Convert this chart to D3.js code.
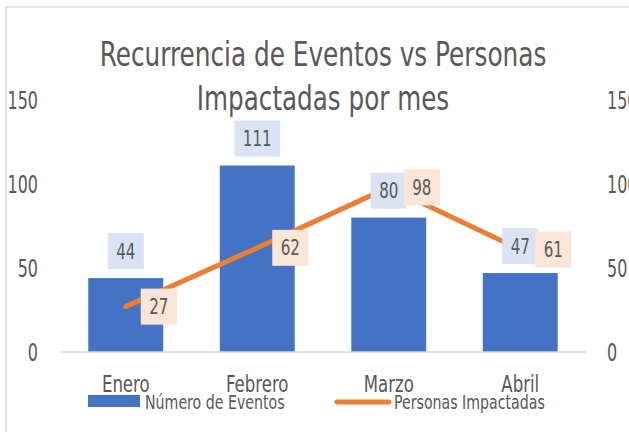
<!DOCTYPE html>
<html>
<head>
<meta charset="utf-8">
<script src="https://cdn.jsdelivr.net/npm/d3@7"></script>
<style>
  body { margin: 0; background: #fff; }
  svg { display: block; }
</style>
</head>
<body>
<script>
// data
var months = ["Enero", "Febrero", "Marzo", "Abril"];
var eventos = [44, 111, 80, 47];
var personas = [27, 62, 98, 61];
var yTicks = [0, 50, 100, 150];
var seriesNames = ["Número de Eventos", "Personas Impactadas"];

var W = 629, H = 432;
var FONT = "'DejaVu Sans Condensed', 'DejaVu Sans', sans-serif";
var GREY = "#595959";

var svg = d3.select("body").append("svg")
    .attr("width", W)
    .attr("height", H);

// chart area frame (only left and top edges are visible)
svg.append("rect")
    .attr("x", 6).attr("y", 7)
    .attr("width", W + 20).attr("height", H + 20)
    .attr("fill", "#fff")
    .attr("stroke", "#d9d9d9")
    .attr("stroke-width", 1.5);

var x = d3.scaleBand()
    .domain(months)
    .range([60, 586])
    .paddingInner(0.43)
    .paddingOuter(0.215);

var y = d3.scaleLinear().domain([0, 150]).range([352, 100]);
var y2 = d3.scaleLinear().domain([0, 150]).range([352, 100]);

// text helper: horizontally squeezed text to mimic the condensed font
function txt(parent, px, py, str, size, anchor, k) {
    return parent.append("text")
        .attr("transform", "translate(" + px + "," + py + ") scale(" + k + ",1)")
        .attr("text-anchor", anchor)
        .attr("font-family", FONT)
        .attr("font-size", size)
        .attr("fill", GREY)
        .text(str);
}

// title
txt(svg, 323, 66, "Recurrencia de Eventos vs Personas", 33, "middle", 0.835);
txt(svg, 323, 110, "Impactadas por mes", 33, "middle", 0.83);

// left axis
var axL = svg.append("g")
    .attr("transform", "translate(38,0)")
    .call(d3.axisLeft(y).tickValues(yTicks).tickSize(0).tickPadding(0));
axL.select(".domain").remove();
axL.selectAll("text")
    .attr("font-family", FONT)
    .attr("font-size", 24)
    .attr("fill", GREY)
    .attr("dy", "0.35em")
    .attr("transform", "scale(0.74,1)");

// right axis
var axR = svg.append("g")
    .attr("transform", "translate(607,0)")
    .call(d3.axisRight(y2).tickValues(yTicks).tickSize(0).tickPadding(0));
axR.select(".domain").remove();
axR.selectAll("text")
    .attr("font-family", FONT)
    .attr("font-size", 24)
    .attr("fill", GREY)
    .attr("dy", "0.35em")
    .attr("transform", "scale(0.74,1)");

// bars
svg.selectAll("rect.bar")
    .data(eventos)
    .enter().append("rect")
    .attr("class", "bar")
    .attr("x", (d, i) => x(months[i]))
    .attr("y", d => y(d))
    .attr("width", x.bandwidth())
    .attr("height", d => y(0) - y(d))
    .attr("fill", "#4472c4");

// baseline
svg.append("line")
    .attr("x1", 60).attr("x2", 586)
    .attr("y1", y(0)).attr("y2", y(0))
    .attr("stroke", "#d9d9d9")
    .attr("stroke-width", 1.5);

// category labels
months.forEach(function(m) {
    txt(svg, x(m) + x.bandwidth() / 2, 392, m, 23, "middle", 0.8);
});

// line series
var line = d3.line()
    .x((d, i) => x(months[i]) + x.bandwidth() / 2)
    .y(d => y2(d));

svg.append("path")
    .datum(personas)
    .attr("d", line)
    .attr("fill", "none")
    .attr("stroke", "#ed7d31")
    .attr("stroke-width", 5)
    .attr("stroke-linecap", "round")
    .attr("stroke-linejoin", "round");

// data label with a filled box
var LK = 0.8;
function boxLabel(cx, cy, str, fill, mode) {
    var g = svg.append("g");
    var bg = g.append("rect").attr("fill", fill);
    var t = txt(g, 0, 0, str, 21, "middle", LK);
    var w = t.node().getComputedTextLength() * LK + 17;
    var h = 36;
    var bx, by;
    if (mode === "above") {
        bx = cx - w / 2;
        by = cy - 9 - h;
    } else {
        bx = cx + 15;
        by = cy - h / 2;
    }
    bg.attr("x", bx).attr("y", by).attr("width", w).attr("height", h);
    t.attr("transform", "translate(" + (bx + w / 2) + "," + (by + h / 2 + 7.5) + ") scale(" + LK + ",1)");
}

eventos.forEach(function(d, i) {
    boxLabel(x(months[i]) + x.bandwidth() / 2, y(d), d, "#dae3f3", "above");
});
personas.forEach(function(d, i) {
    boxLabel(x(months[i]) + x.bandwidth() / 2, y2(d), d, "#fbe5d6", "right");
});

// legend
svg.append("rect")
    .attr("x", 88).attr("y", 395)
    .attr("width", 52).attr("height", 12)
    .attr("fill", "#4472c4");
txt(svg, 145, 409, seriesNames[0], 19, "start", 0.83);

svg.append("line")
    .attr("x1", 337).attr("x2", 389)
    .attr("y1", 402).attr("y2", 402)
    .attr("stroke", "#ed7d31")
    .attr("stroke-width", 5)
    .attr("stroke-linecap", "round");
txt(svg, 394, 409, seriesNames[1], 19, "start", 0.83);
</script>
</body>
</html>
